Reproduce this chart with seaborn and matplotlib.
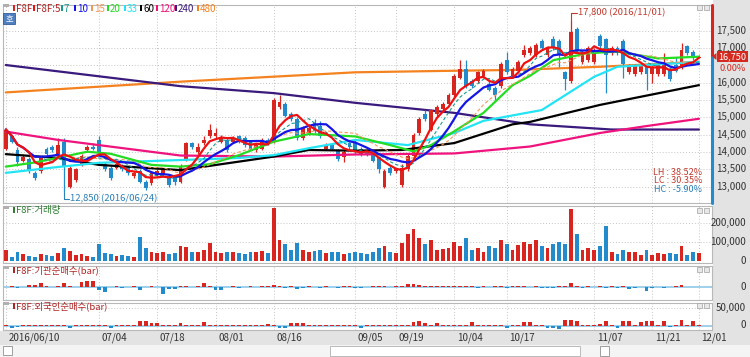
import numpy as np
import pandas as pd
import matplotlib
matplotlib.use("Agg")
import matplotlib.pyplot as plt
import matplotlib.transforms as mtrans
from matplotlib.patches import Rectangle, Polygon
import seaborn as sns

W, H = 750, 357
sns.set_theme(style="white")
plt.rcParams['font.family'] = ['Noto Sans CJK KR', 'DejaVu Sans']
plt.rcParams['axes.unicode_minus'] = False

# ---------------- data ----------------
opens = [14100, 14450, 14050, 13750, 13800, 13400, 13450, 14100, 14150, 13950,
         14300, 13000, 13200, 13650, 14050, 14150, 14350, 13650, 13550, 13550,
         13600, 13550, 13300, 13450, 13150, 13100, 13350, 13350, 13300, 13300,
         13150, 13800, 14250, 14000, 14250, 14450, 14450, 14300, 14350, 14300,
         14450, 14400, 14300, 14050, 14100, 14350, 14300, 15300, 15400, 15100,
         14950, 14400, 14550, 14850, 14750, 14100, 14200, 14050, 13850, 14250,
         14300, 14100, 14050, 13950, 13850, 13000, 13550, 13450, 13050, 13500,
         13900, 14550, 15100, 14650, 15100, 15250, 15400, 15650, 16150, 16400,
         16050, 16050, 16200, 15950, 15850, 15900, 16650, 16200, 16350, 16800,
         16850, 16800, 17200, 16800, 17250, 17200, 16300, 16050, 17550, 16600,
         16650, 16600, 17350, 17250, 16850, 17000, 17200, 16300, 16250, 16300,
         16500, 16250, 16250, 16250, 16400, 16500, 16450, 17050, 16900, 16700]
highs = [14700, 14500, 14150, 13950, 13850, 13450, 13900, 14150, 14200, 14400,
         14400, 13600, 13550, 13950, 14200, 14250, 14450, 13700, 13600, 13700,
         13650, 13600, 13450, 13500, 13200, 13450, 13500, 13550, 13350, 13350,
         13650, 14300, 14300, 14250, 14450, 14800, 14700, 14500, 14400, 14450,
         14500, 14450, 14350, 14250, 14400, 14400, 15550, 15650, 15450, 15150,
         15000, 14750, 14800, 14950, 14900, 14250, 14250, 14100, 14050, 14300,
         14350, 14150, 14100, 14000, 13900, 13500, 13600, 13550, 13650, 13950,
         14550, 15000, 15200, 15250, 15350, 15450, 15700, 16250, 16650, 16650,
         16100, 16350, 16400, 16100, 15900, 16600, 16900, 16450, 16650, 17100,
         17050, 17150, 17250, 17050, 17350, 17250, 16350, 17800, 17600, 16950,
         17050, 17000, 17400, 17300, 17050, 17050, 17250, 16550, 16550, 16550,
         16550, 16500, 16550, 16850, 16450, 16750, 17150, 17100, 16950, 16800]
lows = [14050, 14250, 13600, 13700, 13400, 13200, 13400, 13900, 14000, 13900,
        12850, 12950, 13150, 13600, 14000, 14050, 13950, 13450, 13200, 13500,
        13450, 13350, 13250, 13100, 12900, 13050, 13300, 13300, 13000, 13050,
        13100, 13750, 14100, 13950, 14200, 14400, 14400, 14250, 14000, 14250,
        14250, 14150, 14050, 14000, 14050, 14200, 14250, 15250, 15000, 14900,
        14350, 14350, 14500, 14550, 14400, 14050, 14050, 13750, 13700, 14100,
        13950, 13900, 13900, 13700, 13400, 12950, 13350, 13400, 13000, 13450,
        13850, 14500, 14900, 14600, 15050, 15200, 15350, 15600, 16100, 15850,
        15850, 16000, 16150, 15750, 15500, 15850, 16250, 16150, 16300, 16750,
        16800, 16750, 16950, 16750, 16950, 16450, 15800, 16000, 16900, 16550,
        16600, 16550, 17000, 15700, 16800, 16800, 16150, 16250, 16200, 16250,
        15800, 16000, 16200, 16200, 16050, 16300, 16400, 16800, 16650, 16700]
closes = [14650, 14300, 13700, 13850, 13450, 13250, 13850, 13950, 14050, 14200,
          13600, 13550, 13500, 13900, 14150, 14100, 14000, 13500, 13250, 13650,
          13500, 13400, 13400, 13150, 12950, 13400, 13450, 13500, 13050, 13150,
          13600, 14250, 14150, 14150, 14350, 14650, 14550, 14400, 14050, 14400,
          14300, 14200, 14100, 14200, 14350, 14250, 15500, 15450, 15050, 14950,
          14400, 14700, 14700, 14600, 14450, 14200, 14100, 13800, 14000, 14150,
          14050, 13950, 13950, 13750, 13500, 13450, 13400, 13500, 13550, 13900,
          14500, 14950, 14950, 15200, 15300, 15400, 15650, 16200, 16400, 15900,
          15900, 16300, 16350, 15800, 15650, 16550, 16300, 16400, 16600, 16950,
          17000, 17100, 17000, 17000, 17000, 16800, 16100, 17450, 16950, 16900,
          17000, 16950, 17050, 16800, 17000, 16850, 16550, 16500, 16500, 16500,
          16250, 16450, 16500, 16500, 16100, 16350, 16950, 16850, 16700, 16750]
volume_k = [58, 21, 49, 36, 25, 20, 35, 30, 25, 40,
            68, 55, 30, 35, 25, 20, 89, 40, 35, 25,
            30, 25, 20, 128, 70, 45, 40, 45, 35, 40,
            79, 75, 45, 50, 60, 95, 50, 40, 45, 50,
            40, 35, 50, 45, 55, 40, 280, 110, 90, 60,
            95, 60, 50, 55, 60, 40, 45, 50, 35, 40,
            45, 40, 35, 50, 70, 80, 45, 40, 95, 140,
            170, 120, 90, 110, 60, 65, 70, 100, 80, 120,
            60, 70, 50, 80, 70, 110, 90, 60, 85, 100,
            90, 110, 80, 70, 90, 100, 90, 275, 140, 60,
            70, 60, 80, 185, 45, 35, 60, 50, 45, 30,
            60, 30, 40, 35, 40, 35, 80, 30, 45, 40]
inst_k = [0, 2, -2, 1, 6, 6, 12, 2, 1, 2,
          12, 3, 1, 15, 17, 17, -9, -15, 1, 2,
          -2, 1, 2, -9, 1, 2, 1, -20, -5, -5,
          2, 3, 1, 2, 12, 2, -8, -8, 1, 2,
          -2, 1, 2, 1, 3, 2, 6, 2, -3, 2,
          -6, -4, 2, 1, -3, 2, 1, -2, 3, 2,
          -3, -2, 1, 2, 3, 2, 1, 3, 4, 8,
          10, 6, 3, 2, 4, 2, 3, 2, 4, 3,
          2, -3, 2, 1, 3, 2, -4, 2, 3, 2,
          1, 2, -3, -4, -2, 2, 3, 12, 4, -2,
          2, 1, 2, -2, 2, -3, 2, -6, -2, 1,
          -11, -3, -1, -2, 1, 2, 5, 1, 1, 0]
foreign_k = [2, -8, -5, 1, 1, 2, 1, 2, 1, 1,
             2, -6, 1, 2, 1, 2, 1, 1, -6, 1,
             2, 1, 1, 12, 12, 6, 6, 2, 1, 2,
             8, 2, 1, 2, 9, 2, 1, 2, 1, 2,
             1, 2, 1, 2, 1, 3, 2, -6, -6, 6,
             8, 6, 2, 1, 2, 1, 2, 1, 2, 1,
             1, -6, 1, 2, 1, 2, 1, 2, 1, 2,
             10, 12, 8, 2, 6, 2, 1, 2, 1, 2,
             9, 2, 1, 2, 1, 2, -6, 2, 1, 9,
             9, 2, 1, -6, -6, -9, 15, 17, 12, 2,
             1, 2, 3, 13, 2, -6, 12, 12, 2, 9,
             12, 14, 2, 14, -3, 2, 17, 2, 12, 2]

tick_idx = [0, 16, 26, 36, 46, 60, 67, 77, 86, 101, 111, 119]
tick_labels = ["2016/06/10", "07/04", "07/18", "08/01", "08/16", "09/05",
               "09/19", "10/04", "10/17", "11/07", "11/21", "12/01"]
price_ticks = [13000, 13500, 14000, 14500, 15000, 15500, 16000, 16500, 17000, 17500]
price_labels_shown = [13000, 13500, 14000, 14500, 15000, 15500, 16000, 17000, 17500]

ma20_idx = [0, 5, 10, 14, 18, 25, 30, 35, 40, 46, 52, 60, 66, 70, 73, 77, 82, 87, 90, 94, 100, 105, 112, 119]
ma20_val = [13580, 13700, 13870, 14010, 13950, 13630, 13580, 13650, 13910, 14300, 14520, 14450, 14200,
            14020, 14200, 14600, 15130, 15930, 16200, 16650, 16850, 16900, 16700, 16750]
ma33_idx = [0, 9, 16, 30, 40, 46, 52, 60, 69, 77, 82, 90, 92, 101, 105, 119]
ma33_val = [13400, 13570, 13690, 13770, 13830, 13910, 14110, 14350, 14200, 14550, 14900, 15150, 15210,
            16170, 16460, 16600]
ma60_idx = [0, 9, 16, 30, 46, 52, 60, 68, 77, 87, 90, 102, 119]
ma60_val = [13940, 13830, 13630, 13480, 13870, 14060, 14040, 14060, 14260, 14800, 14870, 15360, 15930]
ma120_idx = [0, 9, 30, 46, 60, 77, 90, 102, 110, 119]
ma120_val = [14590, 14350, 13900, 13870, 13930, 13960, 14160, 14550, 14750, 14960]
ma240_idx = [0, 30, 46, 60, 77, 90, 104, 119]
ma240_val = [16510, 15900, 15700, 15420, 15130, 14800, 14650, 14650]
ma480_idx = [0, 30, 60, 75, 88, 102, 119]
ma480_val = [15720, 16030, 16300, 16340, 16370, 16460, 16600]

last_price = 16750
hi_price, hi_label = 17800, "17,800 (2016/11/01)"
lo_price, lo_label = 12850, "12,850 (2016/06/24)"
stats = ["LH : 38.52%", "LC : 30.35%", "HC : -5.90%"]

# ---------------- styling ----------------
UP, DN = '#d8251f', '#238bcc'
C_MA = {'5': '#ee1111', '7': '#199a8e', '10': '#1515e6', '15': '#f5975a', '20': '#22dd22',
        '33': '#22e4f4', '60': '#000000', '120': '#f0137d', '240': '#3a1a7c', '480': '#f4821f'}
GRID = dict(color='#c4c4c4', lw=0.7, ls=(0, (1, 2)))
FS = 7

fig = plt.figure(figsize=(W / 100, H / 100), dpi=100)
fig.patch.set_facecolor('white')


def add_ax(x0, y0, x1, y1):
    a = fig.add_axes([x0 / W, 1 - y1 / H, (x1 - x0) / W, (y1 - y0) / H])
    a.set_facecolor('white')
    for s in a.spines.values():
        s.set_color('#b8b8b8')
        s.set_linewidth(0.8)
    a.set_xticks([])
    a.set_yticks([])
    return a


def fpx(x, y):
    return x / W, 1 - y / H


def frect(x0, y0, x1, y1, z=-1, **kw):
    fig.patches.append(Rectangle(fpx(x0, y1), (x1 - x0) / W, (y1 - y0) / H,
                                 transform=fig.transFigure, zorder=z, **kw))


# background pieces (behind axes)
frect(713, 0, 750, 331, facecolor='#e3e3e3', edgecolor='none')
frect(0, 331, 750, 345, facecolor='#e3e3e3', edgecolor='none')
frect(0, 345, 750, 357, facecolor='#f4f4f4', edgecolor='none')

n = len(closes)
idx = np.arange(n)
o = np.array(opens, float)
h = np.array(highs, float)
l = np.array(lows, float)
c = np.array(closes, float)
cols = np.where(c >= o, UP, DN)

XL = ((3 - 5.8) / 5.825, (712 - 5.8) / 5.825)
PYL = (12531, 18241)

# ---------------- price panel ----------------
axp = add_ax(3, 5, 712, 203)
for p in price_ticks:
    axp.axhline(p, **GRID, zorder=0)
for t in tick_idx:
    axp.axvline(t, **GRID, zorder=0)

sns.lineplot(x=ma480_idx, y=ma480_val, ax=axp, color=C_MA['480'], lw=1.6, zorder=2)
sns.lineplot(x=ma240_idx, y=ma240_val, ax=axp, color=C_MA['240'], lw=1.6, zorder=2)

axp.vlines(idx, l, h, colors=cols, lw=0.9, zorder=3)
body_lo = np.minimum(o, c)
body_h = np.maximum(np.abs(c - o), 30)
axp.bar(idx, body_h, bottom=body_lo, width=0.66, color=cols, lw=0, zorder=3)

cs = pd.Series(c)
sns.lineplot(x=ma120_idx, y=ma120_val, ax=axp, color=C_MA['120'], lw=1.6, zorder=4)
sns.lineplot(x=ma60_idx, y=ma60_val, ax=axp, color=C_MA['60'], lw=1.6, zorder=4)
sns.lineplot(x=ma33_idx, y=ma33_val, ax=axp, color=C_MA['33'], lw=1.6, zorder=4)
sns.lineplot(x=ma20_idx, y=ma20_val, ax=axp, color=C_MA['20'], lw=1.6, zorder=4)
sns.lineplot(x=idx, y=cs.rolling(15, min_periods=1).mean(), ax=axp, color=C_MA['15'], lw=0.8,
             ls=(0, (3, 2)), zorder=4)
sns.lineplot(x=idx, y=cs.rolling(7, min_periods=1).mean(), ax=axp, color=C_MA['7'], lw=0.8,
             ls=(0, (3, 2)), zorder=4)
sns.lineplot(x=idx, y=cs.rolling(10, min_periods=1).mean(), ax=axp, color=C_MA['10'], lw=1.6, zorder=5)
sns.lineplot(x=idx, y=cs.rolling(5, min_periods=1).mean(), ax=axp, color=C_MA['5'], lw=1.6, zorder=5)
axp.set_xlim(XL)
axp.set_ylim(PYL)
axp.set_xlabel('')
axp.set_ylabel('')
axp.set_xticks([])
axp.set_yticks([])

# high / low annotations
hi_i = int(np.argmax(h))
lo_i = int(np.argmin(l))
axp.plot([hi_i, hi_i, hi_i + 1.0], [hi_price, 18010, 18010], color='#c23a2e', lw=0.8, zorder=6)
axp.text(hi_i + 1.3, 18010, hi_label, color='#c23a2e', fontsize=6.8, va='center', ha='left', zorder=6)
axp.plot([lo_i, lo_i, lo_i + 0.8], [lo_price, 12650, 12650], color='#2a7fb5', lw=0.8, zorder=6)
axp.text(lo_i + 1.1, 12650, lo_label, color='#2a7fb5', fontsize=6.8, va='center', ha='left', zorder=6)

# LH LC HC
for k, (s, col) in enumerate(zip(stats, ['#c23a2e', '#c23a2e', '#2a7fb5'])):
    fig.text(*fpx(702, 172 + 8.5 * k), s, color=col, fontsize=6.5, ha='right', va='center')

# right edge current-price bar
axp.plot([XL[1], XL[1]], [last_price, PYL[1]], color='#d8251f', lw=2.2, clip_on=False, zorder=7)
axp.plot([XL[1], XL[1]], [PYL[0], last_price], color='#238bcc', lw=2.2, clip_on=False, zorder=7)

# price labels on right
bt = mtrans.blended_transform_factory(fig.transFigure, axp.transData)
for p in price_labels_shown:
    fig.text(746 / W, p, f"{p:,}", transform=bt, ha='right', va='center', fontsize=FS,
             color='#333333', zorder=5)
frect(717, 50.5, 748, 62, z=5, facecolor='#d42a20', edgecolor='none')
fig.text(746.5 / W, last_price, f"{last_price:,}", transform=bt, ha='right', va='center',
         fontsize=6.6, color='white', zorder=8)
fig.text(746 / W, last_price - 330, "0.00%", transform=bt, ha='right', va='center',
         fontsize=6.6, color='#d42a20', zorder=8)
fig.patches.append(Polygon([fpx(712, 56.5), fpx(716.5, 53), fpx(716.5, 60)], closed=True,
                           transform=fig.transFigure, facecolor='#d42a20', edgecolor='none', zorder=6))

# legend
legend_items = [("F8F", UP, '#b02424'), ("F8F:5", C_MA['5'], '#b02424'), ("7", C_MA['7'], C_MA['7']),
                ("10", C_MA['10'], C_MA['10']), ("15", C_MA['15'], C_MA['15']),
                ("20", C_MA['20'], C_MA['20']), ("33", C_MA['33'], C_MA['33']),
                ("60", C_MA['60'], C_MA['60']), ("120", C_MA['120'], C_MA['120']),
                ("240", C_MA['240'], C_MA['240']), ("480", C_MA['480'], C_MA['480'])]
lx = [13, 33, 61, 74, 91, 107, 124, 140, 156, 175, 197]
for (lab, sq, tc), x in zip(legend_items, lx):
    frect(x, 5, x + 2.2, 11, z=6, facecolor=sq, edgecolor='none')
    fig.text(*fpx(x + 3, 8.5), lab, color=tc, fontsize=FS, ha='left', va='center', zorder=6)
frect(3, 4, 9, 7, z=6, facecolor='#b0b0b0', edgecolor='none')
frect(3, 13, 15, 24, z=6, facecolor='#4f7fbf', edgecolor='#2f5f9f', lw=0.6)
fig.text(*fpx(9, 18.5), "호", color='white', fontsize=6, ha='center', va='center', zorder=7)

# ---------------- volume panel ----------------
axv = add_ax(3, 206, 712, 263)
for g in [100, 200]:
    axv.axhline(g, **GRID, zorder=0)
for t in tick_idx:
    axv.axvline(t, **GRID, zorder=0)
axv.bar(idx, volume_k, width=0.66, color=cols, lw=0, zorder=3)
axv.set_xlim(XL)
axv.set_ylim(-2 * 100 / 19, 55 * 100 / 19)
bv = mtrans.blended_transform_factory(fig.transFigure, axv.transData)
for g, s in [(200, "200,000"), (100, "100,000"), (0, "0")]:
    fig.text(746 / W, g, s, transform=bv, ha='right', va='center', fontsize=FS, color='#333333')

# ---------------- institution panel ----------------
k_per_px = 50 / 17.5
axi = add_ax(3, 266, 712, 300)
for t in tick_idx:
    axi.axvline(t, **GRID, zorder=0)
ia = np.array(inst_k, float)
axi.bar(idx, ia, width=0.66, color=np.where(ia >= 0, UP, DN), lw=0, zorder=3)
axi.axhline(0, color='#8cc8e8', lw=1.2, zorder=2)
axi.set_xlim(XL)
axi.set_ylim(-13 * k_per_px, 21 * k_per_px)
bi = mtrans.blended_transform_factory(fig.transFigure, axi.transData)
fig.text(746 / W, 0, "0", transform=bi, ha='right', va='center', fontsize=FS, color='#333333')

# ---------------- foreign panel ----------------
axf = add_ax(3, 303, 712, 330)
axf.axhline(50, **GRID, zorder=0)
for t in tick_idx:
    axf.axvline(t, **GRID, zorder=0)
fa = np.array(foreign_k, float)
axf.bar(idx, fa, width=0.66, color=np.where(fa >= 0, UP, DN), lw=0, zorder=3)
axf.axhline(0, color='#8cc8e8', lw=1.2, zorder=2)
axf.set_xlim(XL)
axf.set_ylim(-4.5 * k_per_px, 22.5 * k_per_px)
bf = mtrans.blended_transform_factory(fig.transFigure, axf.transData)
fig.text(746 / W, 50, "50,000", transform=bf, ha='right', va='center', fontsize=FS, color='#333333')
fig.text(746 / W, 0, "0", transform=bf, ha='right', va='center', fontsize=FS, color='#333333')

# panel titles
for y, lab, col in [(210, "F8F:거래량", '#2e7d32'), (270, "F8F:기관순매수(bar)", '#b02424'),
                    (306, "F8F:외국인순매수(bar)", '#b02424')]:
    frect(3, y - 4, 9, y - 1, z=6, facecolor='#b0b0b0', edgecolor='none')
    frect(13, y - 3, 15, y + 3, z=6, facecolor=col, edgecolor='none')
    fig.text(*fpx(16, y), lab, color=col, fontsize=6.8, ha='left', va='center', zorder=6)

# small window buttons
for y in [5, 208, 267, 303]:
    for x in [697, 704]:
        frect(x, y, x + 5, y + 5, z=8, facecolor='#e8e8e8', edgecolor='#a0a0a0', lw=0.5)

# ---------------- date labels ----------------
bd = mtrans.blended_transform_factory(axf.transData, fig.transFigure)
tt = mtrans.offset_copy(bd, fig=fig, x=2.5, y=0, units='dots')
for t, s in zip(tick_idx, tick_labels):
    fig.text(t, 1 - 338 / H, s, transform=tt, ha='left', va='center', fontsize=FS, color='#333333')

# bottom toolbar bits
frect(3, 346, 12, 355, z=6, facecolor='white', edgecolor='#909090', lw=0.6)
fig.text(*fpx(7.5, 350.5), "◀", fontsize=5, ha='center', va='center', color='#333333')
frect(330, 346, 580, 356, z=6, facecolor='white', edgecolor='#b0b0b0', lw=0.6)
frect(600, 346, 609, 356, z=6, facecolor='white', edgecolor='#909090', lw=0.6)
fig.text(*fpx(604.5, 351), "▶", fontsize=5, ha='center', va='center', color='#333333')

fig.savefig("out.png", dpi=100)
